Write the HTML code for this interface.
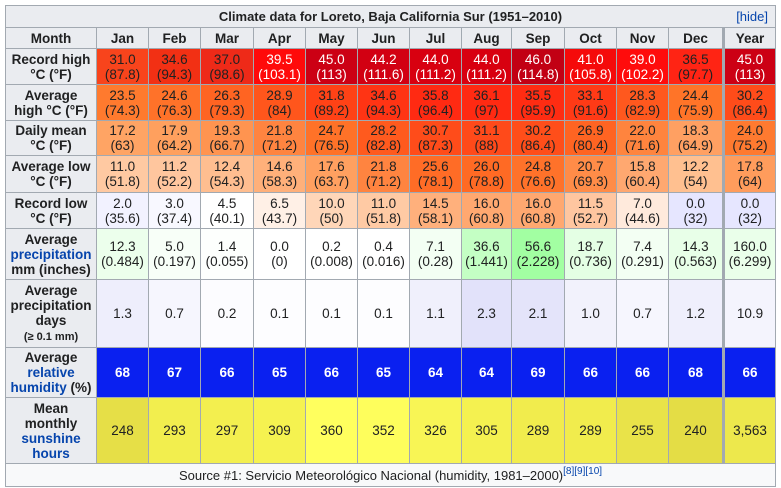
<!DOCTYPE html>
<html><head><meta charset="utf-8"><style>
body{margin:0;width:781px;height:488px;background:#fff;position:relative;overflow:hidden;font-family:"Liberation Sans",sans-serif;color:#202122}
#w{position:absolute;left:5px;top:5px;width:771px;height:482px;background:#a2a9b1}
.d{position:absolute;display:flex;align-items:center;justify-content:center;text-align:center;font-size:13.5px;line-height:15px;box-sizing:border-box}
.l{background:#eaecf0;font-weight:bold;font-size:13.5px}
.a{color:#0645ad}
.w{color:#fff}
.hu{background:#0a20f0;color:#fff;font-weight:bold}
.c0{left:6px;width:90px}.c1{left:97px;width:51px}.c2{left:149px;width:51px}.c3{left:201px;width:52px}.c4{left:254px;width:51px}.c5{left:306px;width:51px}.c6{left:358px;width:51px}.c7{left:410px;width:51px}.c8{left:462px;width:49px}.c9{left:512px;width:52px}.c10{left:565px;width:51px}.c11{left:617px;width:51px}.c12{left:669px;width:53px}.c13{left:725px;width:50px}
.r0{top:6px;height:21px}.r1{top:28px;height:20px}.r2{top:49px;height:35px}.r3{top:85px;height:35px}.r4{top:121px;height:34px}.r5{top:156px;height:36px}.r6{top:193px;height:35px}.r7{top:229px;height:50px}.r8{top:280px;height:67px}.r9{top:348px;height:49px}.r10{top:398px;height:65px}.r11{top:464px;height:22px}
sup{font-size:10px;color:#0645ad;vertical-align:6px;line-height:0}
</style></head><body>
<div id="w"></div>
<div class="d l r0" style="left:6px;width:769px;font-size:13px"><div>Climate data for Loreto, Baja California Sur (1951–2010)</div><span class="a" style="position:absolute;right:7px;top:3px;font-weight:normal">[hide]</span></div>
<div class="d l r1 c0">Month</div><div class="d l r1 c1">Jan</div><div class="d l r1 c2">Feb</div><div class="d l r1 c3">Mar</div><div class="d l r1 c4">Apr</div><div class="d l r1 c5">May</div><div class="d l r1 c6">Jun</div><div class="d l r1 c7">Jul</div><div class="d l r1 c8">Aug</div><div class="d l r1 c9">Sep</div><div class="d l r1 c10">Oct</div><div class="d l r1 c11">Nov</div><div class="d l r1 c12">Dec</div><div class="d l r1 c13">Year</div>

<div class="d l r2 c0"><div>Record high<br>°C (°F)</div></div>
<div class="d r2 c1" style="background:#f8441c">31.0<br>(87.8)</div>
<div class="d r2 c2" style="background:#f23014">34.6<br>(94.3)</div>
<div class="d r2 c3" style="background:#ee2a18">37.0<br>(98.6)</div>
<div class="d r2 c4 w" style="background:#ff0a0a">39.5<br>(103.1)</div>
<div class="d r2 c5 w" style="background:#cc0014">45.0<br>(113)</div>
<div class="d r2 c6 w" style="background:#d20012">44.2<br>(111.6)</div>
<div class="d r2 c7 w" style="background:#d80010">44.0<br>(111.2)</div>
<div class="d r2 c8 w" style="background:#d80010">44.0<br>(111.2)</div>
<div class="d r2 c9 w" style="background:#c20014">46.0<br>(114.8)</div>
<div class="d r2 c10 w" style="background:#f50a0a">41.0<br>(105.8)</div>
<div class="d r2 c11 w" style="background:#ff0c0c">39.0<br>(102.2)</div>
<div class="d r2 c12" style="background:#ff2414">36.5<br>(97.7)</div>
<div class="d r2 c13 w" style="background:#cc0014">45.0<br>(113)</div>

<div class="d l r3 c0"><div>Average<br>high °C (°F)</div></div>
<div class="d r3 c1" style="background:#ff7a2e">23.5<br>(74.3)</div>
<div class="d r3 c2" style="background:#ff7229">24.6<br>(76.3)</div>
<div class="d r3 c3" style="background:#ff6422">26.3<br>(79.3)</div>
<div class="d r3 c4" style="background:#ff561c">28.9<br>(84)</div>
<div class="d r3 c5" style="background:#ff4216">31.8<br>(89.2)</div>
<div class="d r3 c6" style="background:#ff3414">34.6<br>(94.3)</div>
<div class="d r3 c7" style="background:#ff2a12">35.8<br>(96.4)</div>
<div class="d r3 c8" style="background:#ff2a12">36.1<br>(97)</div>
<div class="d r3 c9" style="background:#ff2c12">35.5<br>(95.9)</div>
<div class="d r3 c10" style="background:#ff3a16">33.1<br>(91.6)</div>
<div class="d r3 c11" style="background:#ff581e">28.3<br>(82.9)</div>
<div class="d r3 c12" style="background:#ff7428">24.4<br>(75.9)</div>
<div class="d r3 c13" style="background:#ff4c1a">30.2<br>(86.4)</div>

<div class="d l r4 c0"><div>Daily mean<br>°C (°F)</div></div>
<div class="d r4 c1" style="background:#ffa464">17.2<br>(63)</div>
<div class="d r4 c2" style="background:#ffa05e">17.9<br>(64.2)</div>
<div class="d r4 c3" style="background:#ff9450">19.3<br>(66.7)</div>
<div class="d r4 c4" style="background:#ff8440">21.8<br>(71.2)</div>
<div class="d r4 c5" style="background:#ff7228">24.7<br>(76.5)</div>
<div class="d r4 c6" style="background:#ff5a1e">28.2<br>(82.8)</div>
<div class="d r4 c7" style="background:#ff4c1a">30.7<br>(87.3)</div>
<div class="d r4 c8" style="background:#ff4a1a">31.1<br>(88)</div>
<div class="d r4 c9" style="background:#ff4e1a">30.2<br>(86.4)</div>
<div class="d r4 c10" style="background:#ff6422">26.9<br>(80.4)</div>
<div class="d r4 c11" style="background:#ff843e">22.0<br>(71.6)</div>
<div class="d r4 c12" style="background:#ffa062">18.3<br>(64.9)</div>
<div class="d r4 c13" style="background:#ff7a30">24.0<br>(75.2)</div>

<div class="d l r5 c0"><div>Average low<br>°C (°F)</div></div>
<div class="d r5 c1" style="background:#ffc9a2">11.0<br>(51.8)</div>
<div class="d r5 c2" style="background:#ffc69e">11.2<br>(52.2)</div>
<div class="d r5 c3" style="background:#ffbe90">12.4<br>(54.3)</div>
<div class="d r5 c4" style="background:#ffb07a">14.6<br>(58.3)</div>
<div class="d r5 c5" style="background:#ffa060">17.6<br>(63.7)</div>
<div class="d r5 c6" style="background:#ff8440">21.8<br>(71.2)</div>
<div class="d r5 c7" style="background:#ff6c26">25.6<br>(78.1)</div>
<div class="d r5 c8" style="background:#ff6a24">26.0<br>(78.8)</div>
<div class="d r5 c9" style="background:#ff722a">24.8<br>(76.6)</div>
<div class="d r5 c10" style="background:#ff8c48">20.7<br>(69.3)</div>
<div class="d r5 c11" style="background:#ffa870">15.8<br>(60.4)</div>
<div class="d r5 c12" style="background:#ffc090">12.2<br>(54)</div>
<div class="d r5 c13" style="background:#ff9c5c">17.8<br>(64)</div>

<div class="d l r6 c0"><div>Record low<br>°C (°F)</div></div>
<div class="d r6 c1" style="background:#f2f2ff">2.0<br>(35.6)</div>
<div class="d r6 c2" style="background:#f8f8ff">3.0<br>(37.4)</div>
<div class="d r6 c3" style="background:#ffffff">4.5<br>(40.1)</div>
<div class="d r6 c4" style="background:#fff0e6">6.5<br>(43.7)</div>
<div class="d r6 c5" style="background:#ffd6b8">10.0<br>(50)</div>
<div class="d r6 c6" style="background:#ffcaa4">11.0<br>(51.8)</div>
<div class="d r6 c7" style="background:#ffb07c">14.5<br>(58.1)</div>
<div class="d r6 c8" style="background:#ffa870">16.0<br>(60.8)</div>
<div class="d r6 c9" style="background:#ffa870">16.0<br>(60.8)</div>
<div class="d r6 c10" style="background:#ffc6a0">11.5<br>(52.7)</div>
<div class="d r6 c11" style="background:#ffeadc">7.0<br>(44.6)</div>
<div class="d r6 c12" style="background:#e6e6ff">0.0<br>(32)</div>
<div class="d r6 c13" style="background:#e6e6ff">0.0<br>(32)</div>

<div class="d l r7 c0"><div>Average<br><span class="a">precipitation</span><br>mm (inches)</div></div>
<div class="d r7 c1" style="background:#ecffec">12.3<br>(0.484)</div>
<div class="d r7 c2" style="background:#f8fff8">5.0<br>(0.197)</div>
<div class="d r7 c3" style="background:#fdfffd">1.4<br>(0.055)</div>
<div class="d r7 c4" style="background:#ffffff">0.0<br>(0)</div>
<div class="d r7 c5" style="background:#ffffff">0.2<br>(0.008)</div>
<div class="d r7 c6" style="background:#ffffff">0.4<br>(0.016)</div>
<div class="d r7 c7" style="background:#f3fff3">7.1<br>(0.28)</div>
<div class="d r7 c8" style="background:#c4ffc4">36.6<br>(1.441)</div>
<div class="d r7 c9" style="background:#a2ffa2">56.6<br>(2.228)</div>
<div class="d r7 c10" style="background:#e4ffe4">18.7<br>(0.736)</div>
<div class="d r7 c11" style="background:#f3fff3">7.4<br>(0.291)</div>
<div class="d r7 c12" style="background:#e8ffe8">14.3<br>(0.563)</div>
<div class="d r7 c13" style="background:#eaffea">160.0<br>(6.299)</div>

<div class="d l r8 c0"><div>Average<br>precipitation<br>days<br><span style="font-size:11px">(≥ 0.1 mm)</span></div></div>
<div class="d r8 c1" style="background:#eeeefc">1.3</div>
<div class="d r8 c2" style="background:#f6f6fe">0.7</div>
<div class="d r8 c3" style="background:#fcfcff">0.2</div>
<div class="d r8 c4" style="background:#fdfdff">0.1</div>
<div class="d r8 c5" style="background:#fdfdff">0.1</div>
<div class="d r8 c6" style="background:#fdfdff">0.1</div>
<div class="d r8 c7" style="background:#f0f0fc">1.1</div>
<div class="d r8 c8" style="background:#e2e2fa">2.3</div>
<div class="d r8 c9" style="background:#e4e4fa">2.1</div>
<div class="d r8 c10" style="background:#f2f2fc">1.0</div>
<div class="d r8 c11" style="background:#f6f6fe">0.7</div>
<div class="d r8 c12" style="background:#efeffc">1.2</div>
<div class="d r8 c13" style="background:#f4f4fd">10.9</div>

<div class="d l r9 c0"><div>Average<br><span class="a">relative<br>humidity</span> (%)</div></div>
<div class="d hu r9 c1">68</div><div class="d hu r9 c2">67</div><div class="d hu r9 c3">66</div><div class="d hu r9 c4">65</div><div class="d hu r9 c5">66</div><div class="d hu r9 c6">65</div><div class="d hu r9 c7">64</div><div class="d hu r9 c8">64</div><div class="d hu r9 c9">69</div><div class="d hu r9 c10">66</div><div class="d hu r9 c11">66</div><div class="d hu r9 c12">68</div><div class="d hu r9 c13">66</div>

<div class="d l r10 c0"><div>Mean<br>monthly<br><span class="a">sunshine<br>hours</span></div></div>
<div class="d r10 c1" style="background:#e6df47">248</div>
<div class="d r10 c2" style="background:#f2ee4e">293</div>
<div class="d r10 c3" style="background:#f3ef4f">297</div>
<div class="d r10 c4" style="background:#f5f250">309</div>
<div class="d r10 c5" style="background:#ffff5e">360</div>
<div class="d r10 c6" style="background:#fefe5c">352</div>
<div class="d r10 c7" style="background:#f8f555">326</div>
<div class="d r10 c8" style="background:#f4f150">305</div>
<div class="d r10 c9" style="background:#f1ec4d">289</div>
<div class="d r10 c10" style="background:#f1ec4d">289</div>
<div class="d r10 c11" style="background:#e9e349">255</div>
<div class="d r10 c12" style="background:#e4dd45">240</div>
<div class="d r10 c13" style="background:#ede84c">3,563</div>

<div class="d r11" style="left:6px;width:769px;background:#f8f9fa;font-size:13px"><div>Source #1: Servicio Meteorológico Nacional (humidity, 1981–2000)<sup>[8][9][10]</sup></div></div>
</body></html>
